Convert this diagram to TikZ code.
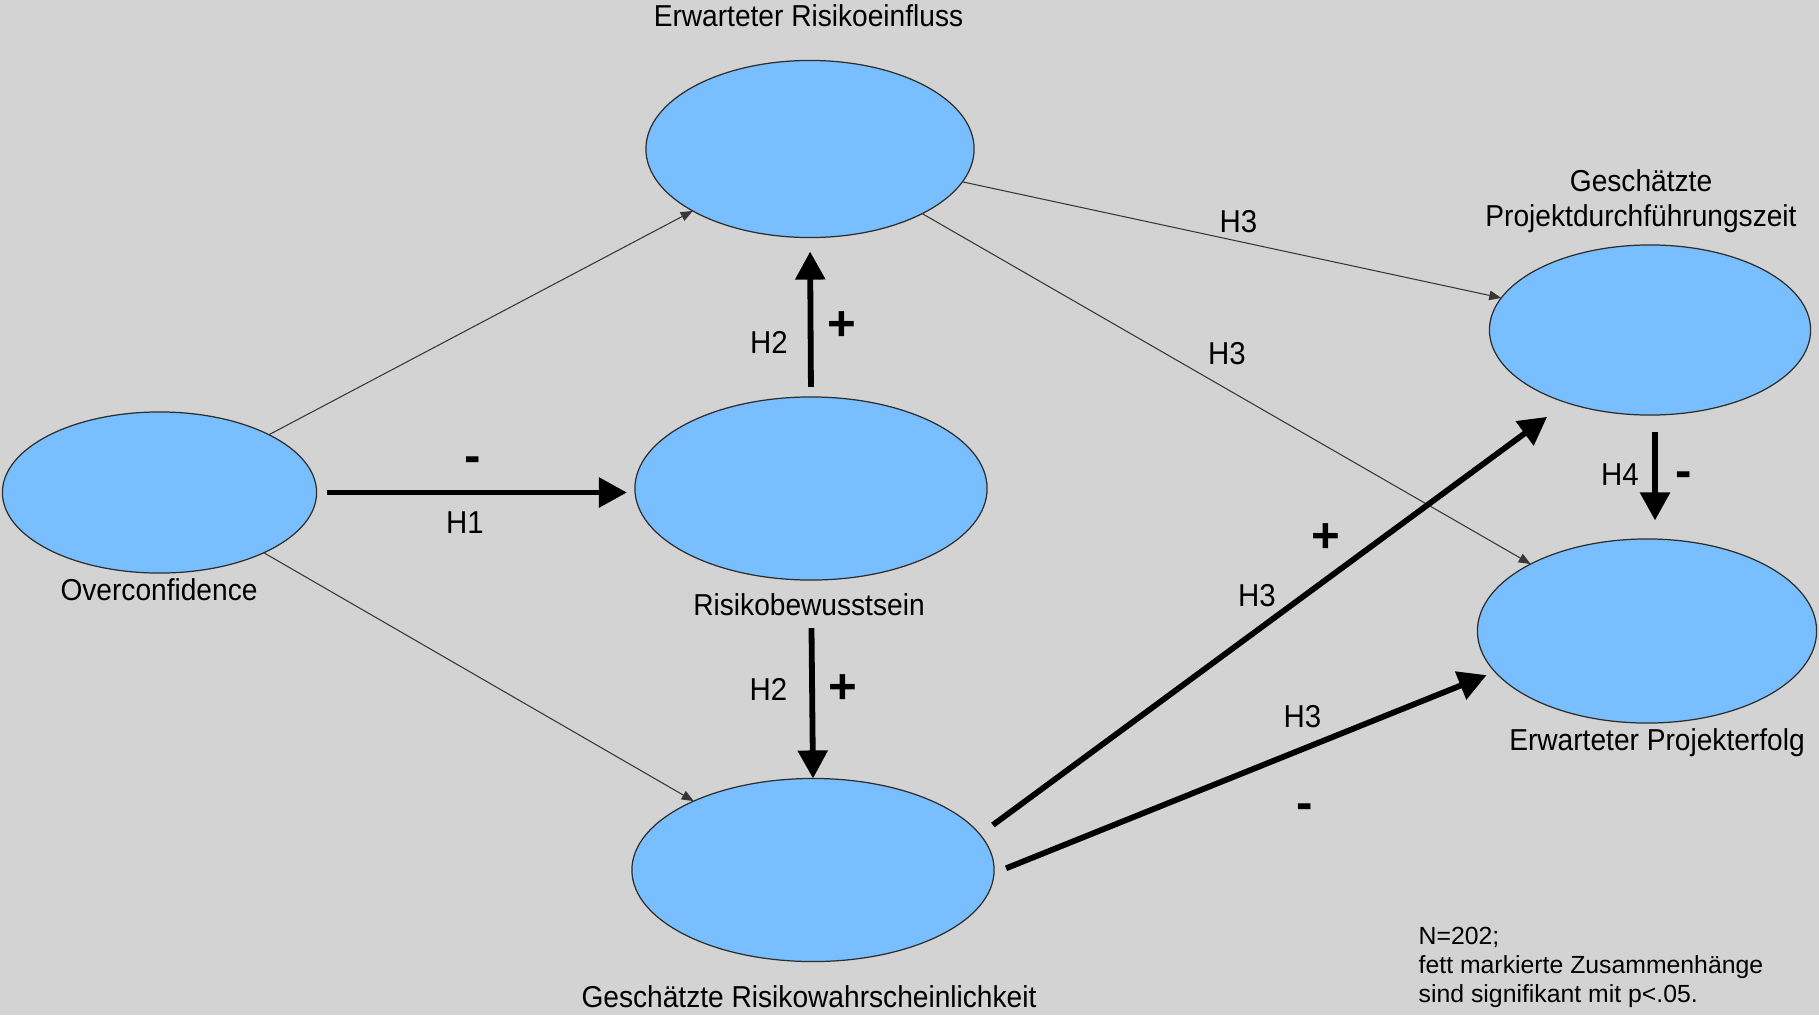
\documentclass[tikz,border=0pt]{standalone}
\usepackage{fontspec}
\setmainfont{Liberation Sans}
\newfontfamily\condfont{Liberation Sans}[FakeStretch=0.93]
\usetikzlibrary{arrows.meta,shapes.geometric}
\definecolor{bgcol}{RGB}{211,211,211}
\definecolor{ellfill}{RGB}{121,191,255}
\definecolor{ellline}{RGB}{45,45,45}
\definecolor{thinline}{RGB}{55,55,55}
\tikzset{
  construct/.style={ellipse, draw=ellline, line width=0.35pt, fill=ellfill, inner sep=0pt, outer sep=0pt},
  lab/.style={font=\condfont\fontsize{8.6}{9.84}\selectfont, inner sep=0pt, anchor=base},
  hlab/.style={font=\condfont\fontsize{9}{10}\selectfont, inner sep=0pt, anchor=base},
  sign/.style={font=\bfseries\fontsize{14}{16}\selectfont, inner sep=0pt, anchor=base},
  notetext/.style={font=\fontsize{7.05}{8.25}\selectfont, inner sep=0pt, anchor=north west, align=left},
  thinarrow/.style={draw=thinline, line width=0.3pt, -{Triangle[length=1.2mm, width=0.95mm]}},
  thickarrow/.style={draw=black, line width=1.65pt, -{Triangle[length=2.8mm, width=2.9mm]}}
}
\begin{document}
\begin{tikzpicture}[x=0.01cm, y=-0.01cm]
\fill[bgcol] (0,0) rectangle (1819,1015);

% constructs
\node[construct, minimum width=3.14cm, minimum height=1.61cm] (A) at (159.5,492.5) {};
\node[construct, minimum width=3.28cm, minimum height=1.77cm] (B) at (810,149) {};
\node[construct, minimum width=3.52cm, minimum height=1.83cm] (C) at (811,488.5) {};
\node[construct, minimum width=3.62cm, minimum height=1.83cm] (D) at (813,870) {};
\node[construct, minimum width=3.21cm, minimum height=1.70cm] (E) at (1650,330) {};
\node[construct, minimum width=3.39cm, minimum height=1.84cm] (F) at (1647,631) {};

% construct labels
\node[lab] (Alab) at (159,600) {Overconfidence};
\node[lab] (Blab) at (808.5,26) {Erwarteter Risikoeinfluss};
\node[lab] (Clab) at (809,615) {Risikobewusstsein};
\node[lab] (Dlab) at (809,1007) {Geschätzte Risikowahrscheinlichkeit};
\node[lab, anchor=center, align=center] (Elab) at (1641,201) {Geschätzte\\Projektdurchführungszeit};
\node[lab] (Flab) at (1657,750) {Erwarteter Projekterfolg};

% thin (non-significant) paths
\draw[thinarrow] (A) -- (B);
\draw[thinarrow] (A) -- (D);
\draw[thinarrow] (B) -- (E);
\draw[thinarrow] (B) -- (F);

% thick (significant) paths
\draw[thickarrow, shorten <=1.0mm, shorten >=0.8mm] (A.east) -- (A.east -| C.west);
\draw[thickarrow, shorten <=1.0mm, shorten >=1.4mm] (C.north) -- (B.south);
\draw[thickarrow, shorten <=4.8mm] (C.south) -- (D.north);
\draw[thickarrow, shorten <=1.6mm, shorten >=2.4mm] (D.12.4) -- (E.221.7);
\draw[thickarrow, shorten <=1.3mm, shorten >=0.9mm] (D.-1.5) -- (F.195.8);
\draw[thickarrow, shorten <=1.7mm, shorten >=1.85mm] ([xshift=0.5mm]E.south) -- ([xshift=0.8mm]F.north);

% path labels
\node[sign] (s1) at (473,472) {-};
\node[hlab] (h1) at (465,533) {H1};
\node[hlab] (h2a) at (769,353) {H2};
\node[sign] (s2a) at (842,340) {+};
\node[hlab] (h2b) at (768.5,700) {H2};
\node[sign] (s2b) at (842.5,703.5) {+};
\node[hlab] (h3a) at (1238.5,232) {H3};
\node[hlab] (h3b) at (1227,364) {H3};
\node[sign] (s3c) at (1326,552) {+};
\node[hlab] (h3c) at (1257,606) {H3};
\node[hlab] (h3d) at (1302.5,727) {H3};
\node[sign] (s3d) at (1305,819) {-};
\node[hlab] (h4) at (1620,485) {H4};
\node[sign] (s4) at (1683.5,487) {-};

% note
\node[notetext] (note) at (1418,926) {N=202;\\fett markierte Zusammenhänge\\sind signifikant mit p<.05.};
\end{tikzpicture}
\end{document}
